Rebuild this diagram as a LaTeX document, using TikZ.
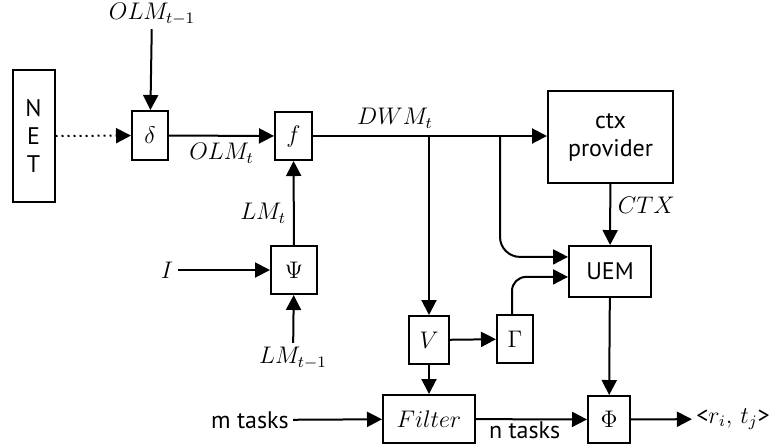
\documentclass[tikz,border=0pt]{standalone}
\usepackage{amsmath,amssymb}
\usepackage{fontspec}
\setsansfont{PT Sans}
\usepackage{tikz}
\usetikzlibrary{arrows.meta,positioning,calc}

\tikzset{
  blk/.style={draw,line width=1pt,inner sep=0pt},
  arr/.style={line width=1pt,-{Triangle[length=7.5pt,width=7.5pt]}},
  lbl/.style={inner sep=2pt}
}

\begin{document}
\begin{tikzpicture}[x=0.5pt,y=-0.5pt,font=\large\sffamily]
  \useasboundingbox (0,0) rectangle (780,447);

  % Blocks
  \node[blk,minimum width=21pt,minimum height=66pt,align=center] (net) at (33.5,136) {N\\E\\T};
  \node[blk,minimum width=18pt,minimum height=24.5pt] (delta) at (150,135.5) {$\delta$};
  \node[blk,minimum width=18.5pt,minimum height=24pt] (f) at (293.5,136) {$f$};
  \node[blk,minimum width=62.5pt,minimum height=46pt,align=center] (ctx) at (610.5,137) {ctx\\provider};
  \node[blk,minimum width=41pt,minimum height=25.5pt] (uem) at (610,271.5) {UEM};
  \node[blk,minimum width=23pt,minimum height=24pt] (psi) at (294,270) {$\Psi$};
  \node[blk,minimum width=20pt,minimum height=24pt] (v) at (429,340) {$V$};
  \node[blk,minimum width=18pt,minimum height=24pt] (gam) at (515,339) {$\Gamma$};
  \node[blk,minimum width=46pt,minimum height=24pt] (filt) at (429,419) {$Filter$};
  \node[blk,minimum width=21pt,minimum height=23.5pt] (phi) at (609,419.5) {$\Phi$};

  % Inputs and outputs
  \node[lbl] (olmprev) at (152,14) {$OLM_{t-1}$};
  \node[lbl] (iin) at (167,270) {$I$};
  \node[lbl] (lmprev) at (293,358) {$LM_{t-1}$};
  \node[lbl] (mtasks) at (250,420) {m tasks};
  \node[lbl] (out) at (733,419) {<$r_i,\,t_j$>};

  % Arrows
  \draw[arr] (olmprev) -- (delta);
  \draw[arr,dotted] (net) -- (delta);
  \draw[arr] (delta) -- node[below] {$OLM_t$} (f);
  \draw[arr] (psi) -- node[left,pos=0.38] {$LM_t$} (f);
  \draw[arr] (iin) -- (psi);
  \draw[arr] (lmprev) -- (psi);
  \draw[arr] (f.east) -- node[above,pos=0.35] {$DWM_t$} (ctx.west |- f.east);
  \draw[arr] (v |- f.east) -- (v);
  \draw[arr,rounded corners=10pt] (500,136) |- ([yshift=7.3pt]uem.west);
  \draw[arr,rounded corners=7pt] (gam.north -| 512,0) |- ([yshift=-2.7pt]uem.west);
  \draw[arr] (ctx) -- node[right,pos=0.35] {$CTX$} (uem);
  \draw[arr] (v) -- (gam);
  \draw[arr] (v) -- (filt);
  \draw[arr] (mtasks) -- (filt);
  \draw[arr] (filt) -- node[pos=0,anchor=north west,xshift=5pt,inner sep=1pt] {n tasks} (phi);
  \draw[arr] (uem) -- (phi);
  \draw[arr] (phi) -- (out);
\end{tikzpicture}
\end{document}
